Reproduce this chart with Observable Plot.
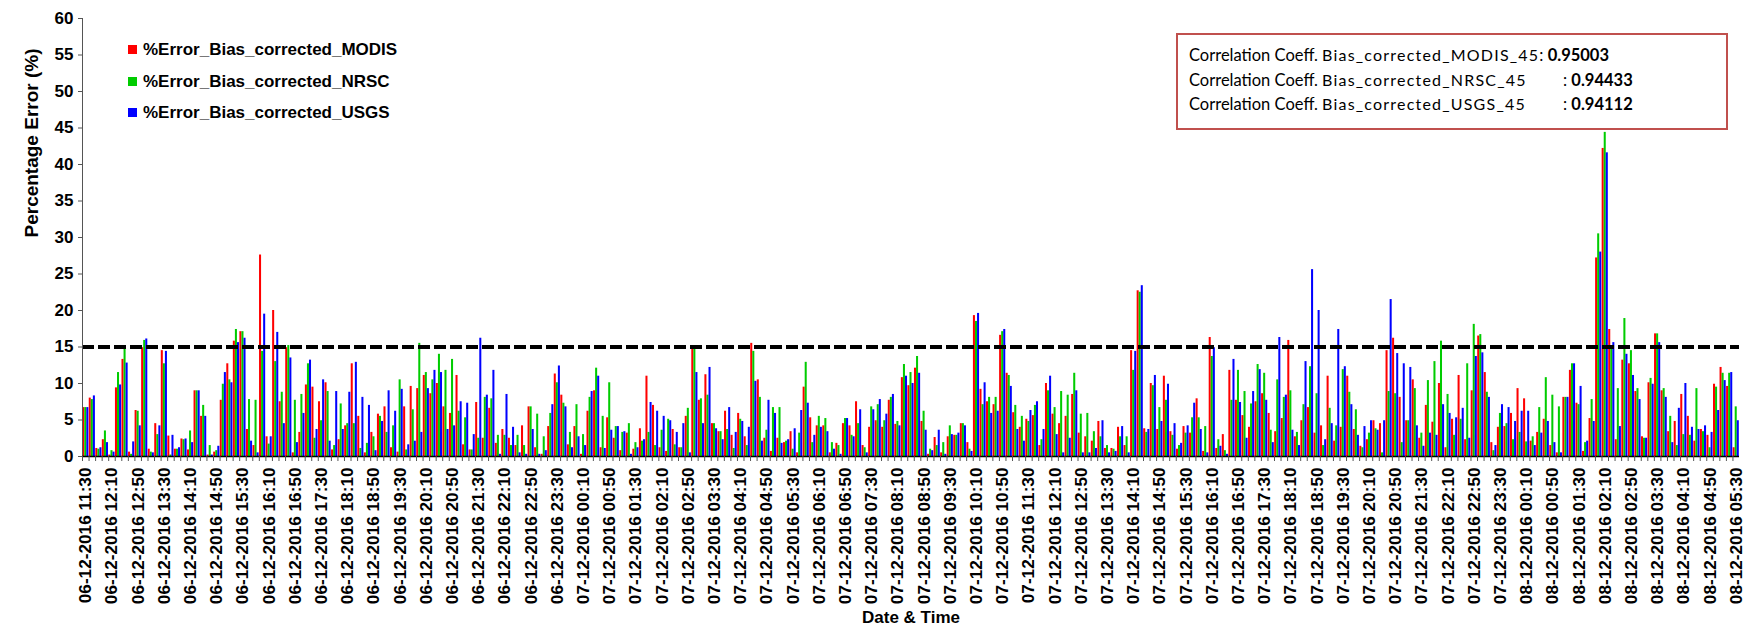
<!DOCTYPE html>
<html>
<head>
<meta charset="utf-8">
<script src="https://cdn.jsdelivr.net/npm/d3@7"></script>
<script src="https://cdn.jsdelivr.net/npm/@observablehq/plot@0.6"></script>
<style>
  html, body { margin: 0; padding: 0; background: #fff; }
  #wrap { position: relative; width: 1748px; height: 633px; overflow: hidden; }
  #legend { position: absolute; left: 128px; top: 39px; font-family: "Liberation Sans", Arial, sans-serif; font-weight: bold; font-size: 17px; color: #000; }
  #legend .row { height: 31.5px; line-height: 22px; white-space: nowrap; }
  #legend .sw { display: inline-block; width: 9px; height: 9px; margin-right: 6px; vertical-align: 1px; }
  #corr { position: absolute; left: 1176px; top: 33px; width: 548px; height: 93px; border: 2px solid #c0504d; background: #fff;
          font-family: Lato, "Open Sans", sans-serif; font-size: 16.5px; color: #000; }
  #corr .row { position: absolute; left: 11px; height: 24px; line-height: 24px; white-space: nowrap; }
  #corr .lab { display: inline-block; width: 374px; }
  #corr .b { font-weight: bold; }
  #corr .small { font-size: 16px; letter-spacing: 1.2px; }
</style>
</head>
<body>
<div id="wrap"></div>
<script>
// ---- data ----
const seriesNames = ["%Error_Bias_corrected_MODIS", "%Error_Bias_corrected_NRSC", "%Error_Bias_corrected_USGS"];
const seriesColors = ["#ff0000", "#00cc00", "#0000ff"];
const corrLabels = ["Bias_corrected_MODIS_45", "Bias_corrected_NRSC_45", "Bias_corrected_USGS_45"];
const corrValues = ["0.95003", "0.94433", "0.94112"];
const threshold = [15];
const yTicks = [0, 5, 10, 15, 20, 25, 30, 35, 40, 45, 50, 55, 60];

const tickLabels = [
 "06-12-2016 11:30","06-12-2016 12:10","06-12-2016 12:50","06-12-2016 13:30","06-12-2016 14:10","06-12-2016 14:50",
 "06-12-2016 15:30","06-12-2016 16:10","06-12-2016 16:50","06-12-2016 17:30","06-12-2016 18:10","06-12-2016 18:50",
 "06-12-2016 19:30","06-12-2016 20:10","06-12-2016 20:50","06-12-2016 21:30","06-12-2016 22:10","06-12-2016 22:50",
 "06-12-2016 23:30","07-12-2016 00:10","07-12-2016 00:50","07-12-2016 01:30","07-12-2016 02:10","07-12-2016 02:50",
 "07-12-2016 03:30","07-12-2016 04:10","07-12-2016 04:50","07-12-2016 05:30","07-12-2016 06:10","07-12-2016 06:50",
 "07-12-2016 07:30","07-12-2016 08:10","07-12-2016 08:50","07-12-2016 09:30","07-12-2016 10:10","07-12-2016 10:50",
 "07-12-2016 11:30","07-12-2016 12:10","07-12-2016 12:50","07-12-2016 13:30","07-12-2016 14:10","07-12-2016 14:50",
 "07-12-2016 15:30","07-12-2016 16:10","07-12-2016 16:50","07-12-2016 17:30","07-12-2016 18:10","07-12-2016 18:50",
 "07-12-2016 19:30","07-12-2016 20:10","07-12-2016 20:50","07-12-2016 21:30","07-12-2016 22:10","07-12-2016 22:50",
 "07-12-2016 23:30","08-12-2016 00:10","08-12-2016 00:50","08-12-2016 01:30","08-12-2016 02:10","08-12-2016 02:50",
 "08-12-2016 03:30","08-12-2016 04:10","08-12-2016 04:50","08-12-2016 05:30"
];

const modis = [
 6.7,8.0,1.1,2.3,0.2,9.4,13.3,0.6,6.3,14.9,1.0,4.5,14.5,2.8,1.0,2.4,0.9,9.0,5.5,0.2,
 0.6,7.7,12.7,15.8,17.1,3.7,1.5,27.6,2.7,20.0,7.5,14.9,0.5,3.3,9.8,9.5,7.5,10.1,0.9,2.3,
 4.2,12.7,5.5,0.5,3.3,5.8,6.8,1.2,0.6,6.8,9.6,9.3,11.1,8.6,10.0,6.8,5.9,11.1,1.6,0.9,
 7.4,2.5,6.6,1.8,3.7,2.5,1.5,4.2,6.8,1.2,0.3,4.1,11.3,8.4,1.6,4.1,0.3,6.2,9.0,1.2,
 5.3,2.5,0.8,3.2,1.0,3.8,11.0,7.0,1.2,0.7,3.7,1.2,5.5,14.7,7.7,11.2,4.5,3.4,6.2,2.9,
 5.9,2.7,15.5,10.5,2.5,0.7,2.5,1.9,3.4,0.5,9.5,5.3,4.2,4.2,0.5,1.8,4.5,4.2,7.5,1.5,
 4.0,4.9,4.0,7.7,4.4,10.8,9.7,12.1,4.8,0.3,2.6,0.5,2.7,2.9,4.5,1.9,19.3,9.2,7.5,7.1,
 16.6,11.4,6.0,4.0,5.1,5.6,1.5,10.0,5.8,4.5,5.5,8.5,3.2,2.7,2.1,4.8,1.1,1.1,4.0,1.5,
 14.5,22.7,3.8,10.0,3.7,11.0,3.4,1.0,4.1,3.2,7.9,0.7,16.3,1.1,3.0,11.8,7.7,5.6,4.0,7.5,
 8.6,5.9,3.4,5.2,15.9,2.7,4.9,6.7,3.2,4.2,11.0,2.1,4.0,11.0,3.7,1.4,2.3,4.9,4.5,14.5,
 16.2,8.1,4.9,10.5,2.5,7.0,4.7,10.0,1.2,5.1,11.1,2.3,9.0,16.5,11.5,1.9,4.0,4.1,5.9,9.3,
 7.9,2.1,3.3,5.1,1.5,0.5,8.1,11.8,7.3,0.7,5.2,27.2,42.2,17.4,2.3,13.2,12.7,8.9,2.7,10.1,
 16.8,9.0,3.4,4.8,8.5,5.5,2.1,3.7,2.9,9.9,12.2,9.6,1.2
];
const nrsc = [
 6.7,7.8,1.0,3.5,0.8,11.5,15.1,0.3,6.2,15.9,0.6,3.0,12.7,0.2,1.0,2.3,3.5,9.0,7.0,1.5,
 0.8,9.9,10.5,17.4,17.1,7.8,7.7,14.4,1.7,13.0,8.8,15.2,7.7,8.5,12.7,2.5,4.9,8.9,1.5,7.2,
 4.5,4.5,1.1,1.8,2.7,5.5,3.3,4.2,10.5,0.9,6.4,15.5,11.5,10.5,14.0,11.8,13.3,6.2,5.3,0.9,
 2.5,8.1,7.9,2.9,2.9,1.5,2.9,1.5,6.8,5.8,2.7,5.9,10.1,7.3,3.3,7.1,3.0,8.1,12.1,5.5,
 10.1,4.1,3.3,4.5,1.9,2.1,3.3,1.5,3.6,5.1,1.6,1.2,6.6,14.7,7.9,8.4,4.5,3.4,3.7,1.1,
 5.1,1.5,14.4,8.1,3.6,6.7,6.7,2.1,1.0,3.2,12.9,1.9,5.5,5.2,1.9,1.5,5.2,2.9,4.5,1.2,
 6.8,7.1,4.9,8.1,4.8,12.6,11.5,13.7,6.2,1.0,1.5,1.9,4.2,2.9,4.5,1.0,18.5,7.1,8.1,8.1,
 17.1,11.1,7.0,5.5,4.8,7.0,2.3,9.0,6.7,8.9,8.4,11.4,5.8,5.9,3.4,2.7,1.5,1.0,2.7,2.7,
 11.8,22.5,3.3,9.7,6.7,7.7,2.9,1.5,3.2,5.3,5.3,4.1,13.7,2.3,0.8,7.7,11.8,8.9,7.2,12.6,
 11.4,3.6,10.5,8.1,9.0,3.3,7.1,12.3,8.6,1.5,6.6,4.2,11.9,8.8,6.4,1.2,3.2,3.8,0.5,8.9,
 8.6,1.9,4.9,9.3,3.2,10.4,13.0,15.8,8.5,2.9,5.1,12.7,18.1,16.7,8.8,0.8,5.9,4.5,2.3,3.3,
 2.0,2.7,6.7,10.8,8.4,6.8,8.1,12.7,7.1,1.9,7.8,30.5,44.4,14.9,9.3,18.9,14.5,9.3,2.5,10.7,
 16.8,9.3,5.5,1.5,3.0,2.9,9.3,3.4,1.2,9.5,11.4,11.4,6.8
];
const usgs = [
 6.7,8.3,1.2,1.9,0.6,9.8,12.8,2.0,4.2,16.1,0.5,4.2,14.4,2.9,1.2,2.4,1.9,9.0,5.5,0.2,
 1.4,11.5,10.1,15.6,16.2,2.1,0.5,19.5,2.7,17.0,4.5,13.5,1.9,5.9,13.2,3.7,10.5,2.1,8.9,3.7,
 8.8,12.9,8.1,7.0,0.8,4.8,9.0,6.2,9.2,1.6,2.1,3.3,9.3,11.8,11.5,3.7,4.2,7.5,7.3,3.0,
 16.2,8.4,11.8,0.3,8.5,4.0,0.5,0.3,3.7,0.3,0.8,7.1,12.4,6.8,1.2,2.7,1.5,8.9,11.0,1.1,
 3.6,4.1,3.4,0.3,1.2,2.3,7.4,6.2,5.5,4.9,3.3,4.5,0.5,11.5,4.5,12.2,3.8,2.3,6.7,3.3,
 4.8,4.0,10.3,2.1,7.7,5.9,1.8,2.3,3.8,6.3,7.3,2.9,4.0,3.4,1.0,0.3,5.2,2.7,6.4,0.5,
 6.4,7.8,5.8,8.5,4.2,11.0,10.0,11.4,3.6,0.8,3.6,0.3,3.0,3.2,4.2,0.7,19.6,10.1,5.9,6.2,
 17.4,9.6,3.7,2.1,6.3,7.5,3.7,11.0,3.0,0.5,2.5,9.0,0.5,0.5,1.1,4.9,0.5,0.7,4.1,0.5,
 14.4,23.4,3.7,11.1,4.8,9.9,4.5,1.8,4.2,7.3,3.7,0.5,14.9,1.4,0.3,13.3,7.4,2.5,8.9,11.9,
 7.7,1.9,16.3,8.4,3.6,1.5,13.0,25.6,20.0,2.3,4.5,17.4,12.3,7.1,2.9,4.1,4.9,3.6,4.9,21.5,
 14.1,12.7,12.2,4.2,1.4,3.2,2.9,7.1,5.9,5.3,6.6,2.5,13.7,14.2,8.1,1.5,7.1,6.7,4.8,6.2,
 6.2,1.5,3.2,4.8,1.9,0.5,8.1,12.7,9.6,2.1,4.8,28.0,41.6,15.6,4.1,14.0,11.1,7.8,2.5,9.9,
 15.6,8.1,1.9,6.6,10.0,4.0,3.7,4.2,3.3,6.3,10.4,11.5,4.9
];

// category keys: 10-minute time stamps (category axis)
const fmt = d3.utcFormat("%d-%m-%Y %H:%M");
const t0 = Date.UTC(2016, 11, 6, 11, 30);
const times = modis.map((_, i) => fmt(new Date(t0 + i * 600000)));
const data = times.map((t, i) => ({t, modis: modis[i], nrsc: nrsc[i], usgs: usgs[i]}));

const W = 1748, H = 633;
const mL = 82, mR = 9, mT = 18, mB = 177;
const bw = (W - mL - mR) / times.length;
const barW = bw * 0.31;

const font = "'Liberation Sans', Arial, sans-serif";
const chart = Plot.plot({
  width: W, height: H,
  marginLeft: mL, marginRight: mR, marginTop: mT, marginBottom: mB,
  style: {fontFamily: font, fontWeight: "bold", color: "#000", background: "transparent"},
  x: {domain: times, padding: 0, axis: null},
  y: {domain: [0, 60], axis: null},
  marks: [
    Plot.barY(data, {x: "t", y: "modis", fill: seriesColors[0], insetLeft: 0.2, insetRight: bw - 0.2 - barW}),
    Plot.barY(data, {x: "t", y: "nrsc", fill: seriesColors[1], insetLeft: (bw - barW) / 2, insetRight: (bw - barW) / 2}),
    Plot.barY(data, {x: "t", y: "usgs", fill: seriesColors[2], insetLeft: bw - 0.2 - barW, insetRight: 0.2}),
    Plot.ruleY(threshold, {stroke: "#000", strokeWidth: 4, strokeDasharray: "12,4"}),
    Plot.frame({anchor: "left", stroke: "#555"}),
    Plot.ruleY([0], {stroke: "#000", strokeWidth: 1.5}),
    Plot.axisY({ticks: yTicks, tickSize: 4, tickPadding: 5, fontSize: 17, fontWeight: "bold", label: null, stroke: "#555"}),
    Plot.axisX({ticks: times, tickFormat: () => "", tickSize: 5, dx: -bw / 2, label: null, stroke: "#555"}),
    Plot.axisX({ticks: tickLabels, tickRotate: -90, tickSize: 0, tickPadding: 11, fontSize: 17.2, fontWeight: "bold", label: null}),
    Plot.text(["Percentage Error (%)"], {frameAnchor: "left", dx: -51, rotate: -90, fontSize: 19, fontWeight: "bold"}),
    Plot.text(["Date & Time"], {frameAnchor: "bottom", dy: 166, fontSize: 17, fontWeight: "bold"})
  ]
});

const wrap = document.getElementById("wrap");
wrap.appendChild(chart);

// legend (inside the plot, top-left)
const leg = document.createElement("div");
leg.id = "legend";
seriesNames.forEach((n, i) => {
  const r = document.createElement("div");
  r.className = "row";
  r.innerHTML = `<span class="sw" style="background:${seriesColors[i]}"></span>${n}`;
  leg.appendChild(r);
});
wrap.appendChild(leg);

// correlation box
const box = document.createElement("div");
box.id = "corr";
corrLabels.forEach((n, i) => {
  const r = document.createElement("div");
  r.className = "row";
  r.style.top = (8 + i * 24.5) + "px";
  if (i === 0) {
    r.innerHTML = `<span>Correlation Coeff. <span class="small">${n}</span>: <span class="b">${corrValues[i]}</span></span>`;
  } else {
    r.innerHTML = `<span class="lab">Correlation Coeff. <span class="small">${n}</span></span><span>: <span class="b">${corrValues[i]}</span></span>`;
  }
  box.appendChild(r);
});
wrap.appendChild(box);
</script>
</body>
</html>
